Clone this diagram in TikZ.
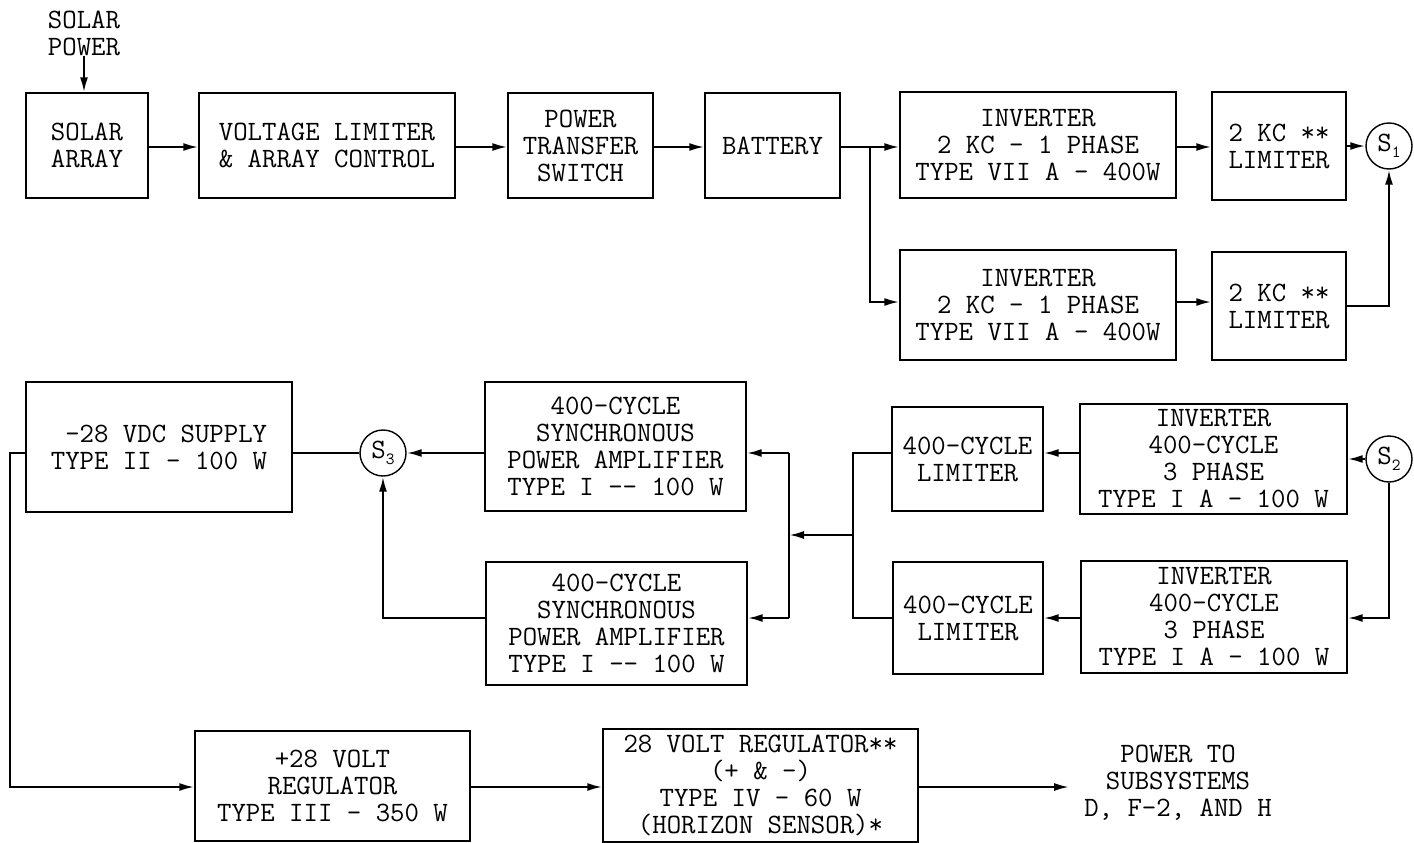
\documentclass[tikz,border=0pt]{standalone}
\usetikzlibrary{arrows.meta,calc}
\newcommand\labfont{\fontsize{28}{27}\selectfont\ttfamily}
\newcommand\subfont{\fontsize{17}{17}\selectfont\ttfamily}
\begin{document}
\begin{tikzpicture}[x=1pt,y=-1pt,
  box/.style n args={2}{draw,line width=1.4pt,minimum width=#1,minimum height=#2,inner sep=0pt,align=center,font=\labfont},
  sw/.style={draw,circle,line width=1.4pt,minimum size=46pt,inner sep=0pt,font=\labfont},
  txt/.style={inner sep=0pt,align=center,font=\labfont},
  conn/.style={draw,line width=2.2pt},
  arr/.style={draw,line width=2.2pt,-{Latex[length=15pt,width=8pt]}}]
\useasboundingbox[fill=white] (0,0) rectangle (1414,843);
% row coordinates
\coordinate (y1) at (0,147);
\coordinate (y2) at (0,302);
\coordinate (y3) at (0,306);
\coordinate (r1) at (0,453);
\coordinate (r2) at (0,618);
\coordinate (r4) at (0,787);
% top row
\node[txt] (sptext) at (84,33) {SOLAR\\POWER};
\node[box={122pt}{105pt}] (solar) at (87,145.5) {SOLAR\\ARRAY};
\node[box={256pt}{105pt}] (vlim) at (327,145.5) {VOLTAGE LIMITER\\\& ARRAY CONTROL};
\node[box={145pt}{105pt}] (pts) at (580.5,145.5) {POWER\\TRANSFER\\SWITCH};
\node[box={135pt}{105pt}] (bat) at (772.5,145.5) {BATTERY};
\node[box={276pt}{106pt}] (inv1) at (1038,145) {INVERTER\\2 KC - 1 PHASE\\TYPE VII A - 400W};
\node[box={134pt}{108pt},align=right] (lim1) at (1279,146) {2 KC **\\LIMITER};
\node[sw] (s1) at (1389,146) {S\raisebox{-6pt}{\subfont 1}};
\node[box={276pt}{110pt}] (inv2) at (1038,305) {INVERTER\\2 KC - 1 PHASE\\TYPE VII A - 400W};
\node[box={134pt}{108pt},align=right] (lim2) at (1279,306) {2 KC **\\LIMITER};
\coordinate (j1) at (870,147);
% middle row
\node[box={266pt}{130pt},align=right] (vdc) at (159,447) {-28 VDC SUPPLY\\TYPE II - 100 W};
\node[sw] (s3) at (383,453) {S\raisebox{-6pt}{\subfont 3}};
\node[box={261pt}{129pt}] (pa1) at (615.5,446.5) {400-CYCLE\\SYNCHRONOUS\\POWER AMPLIFIER\\TYPE I -{}- 100 W};
\node[box={261pt}{123pt}] (pa2) at (616.5,623.5) {400-CYCLE\\SYNCHRONOUS\\POWER AMPLIFIER\\TYPE I -{}- 100 W};
\node[box={151pt}{104pt}] (lim3) at (967.5,459) {400-CYCLE\\LIMITER};
\node[box={150pt}{112pt}] (lim4) at (968,618) {400-CYCLE\\LIMITER};
\node[box={267pt}{110pt}] (inv3) at (1213.5,459) {INVERTER\\400-CYCLE\\3 PHASE\\TYPE I A - 100 W};
\node[box={266pt}{112pt}] (inv4) at (1214,617) {INVERTER\\400-CYCLE\\3 PHASE\\TYPE I A - 100 W};
\node[sw] (s2) at (1389,459) {S\raisebox{-6pt}{\subfont 2}};
\coordinate (j2) at (789,535);
\coordinate (j3) at (853,535);
\coordinate (lx) at (10,0);
% bottom row
\node[box={275pt}{110pt}] (reg1) at (332.5,786) {+28 VOLT\\REGULATOR\\TYPE III - 350 W};
\node[box={315pt}{113pt}] (reg2) at (760.5,785.5) {28 VOLT REGULATOR**\\(+ \& -)\\TYPE IV - 60 W\\(HORIZON SENSOR)*};
\node[txt,inner xsep=15pt] (out) at (1178,783) {POWER TO\\SUBSYSTEMS\\D, F-2, AND H};
% connectors top
\draw[arr] (sptext.south) -- (sptext.south |- solar.north);
\draw[arr] (solar.east|-y1) -- (vlim.west|-y1);
\draw[arr] (vlim.east|-y1) -- (pts.west|-y1);
\draw[arr] (pts.east|-y1) -- (bat.west|-y1);
\draw[arr] (bat.east|-y1) -- (inv1.west|-y1);
\draw[arr] (j1) |- (inv2.west|-y2);
\draw[arr] (inv1.east|-y1) -- (lim1.west|-y1);
\draw[arr] (lim1.east|-s1) -- (s1.west);
\draw[arr] (inv2.east|-y2) -- (lim2.west|-y2);
\draw[arr] (lim2.east|-y3) -| (s1.south);
% connectors middle
\draw[conn] (vdc.east|-r1) -- (s3.west);
\draw[arr] (pa1.west|-r1) -- (s3.east);
\draw[arr] (pa2.west|-r2) -| (s3.south);
\draw[conn] (j2|-r1) -- (j2|-r2);
\draw[arr] (j2|-r1) -- (pa1.east|-r1);
\draw[arr] (j2|-r2) -- (pa2.east|-r2);
\draw[conn] (lim3.west|-r1) -- (j3|-r1) -- (j3|-r2) -- (lim4.west|-r2);
\draw[arr] (j3) -- (j2);
\draw[arr] (inv3.west|-r1) -- (lim3.east|-r1);
\draw[arr] (inv4.west|-r2) -- (lim4.east|-r2);
\draw[arr] (s2.west) -- (inv3.east|-s2);
\draw[arr] (s2.south) |- (inv4.east|-r2);
% connectors bottom
\draw[arr] (vdc.west|-r1) -- (lx|-r1) |- (reg1.west|-r4);
\draw[arr] (reg1.east|-r4) -- (reg2.west|-r4);
\draw[arr] (reg2.east|-r4) -- (out.west|-r4);
\end{tikzpicture}
\end{document}
